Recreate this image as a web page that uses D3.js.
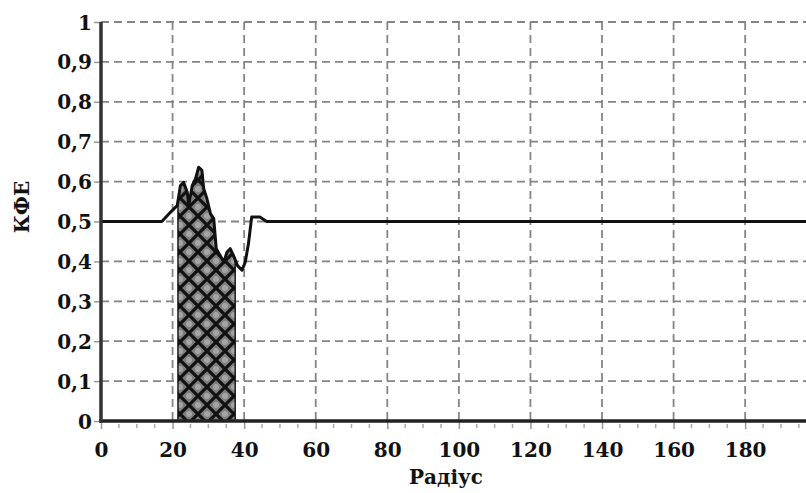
<!DOCTYPE html>
<html><head><meta charset="utf-8">
<script src="https://cdn.jsdelivr.net/npm/d3@7"></script>
<style>body{margin:0;background:#fff}svg{display:block}</style>
</head><body>
<svg id="c" width="806" height="493"></svg>
<script>
const radius = [0,17,19.4,21.3,22.2,23.1,24.1,24.5,25.5,26.4,27.3,28.2,28.7,29.6,30.6,31.5,32.2,33.3,34.3,35.2,36.1,37,38.1,39.4,40.3,41.2,42.1,44.4,46.3,197];
const kfe    = [0.5,0.5,0.523,0.54,0.59,0.598,0.573,0.54,0.59,0.607,0.636,0.628,0.582,0.557,0.519,0.507,0.432,0.415,0.398,0.423,0.432,0.415,0.39,0.378,0.398,0.444,0.511,0.511,0.5,0.5];
const shadeRange = [21.5, 37.5];
const xTicks = [0,20,40,60,80,100,120,140,160,180];
const yTicks = [0,0.1,0.2,0.3,0.4,0.5,0.6,0.7,0.8,0.9,1];
const xLabel = "Радіус", yLabel = "КФЕ";

const svg = d3.select("#c");
const font = "'DejaVu Serif', serif";
const x = d3.scaleLinear().domain([0,197]).range([101,806]);
const y = d3.scaleLinear().domain([0,1]).range([421,22]);
const data = radius.map((r,i)=>({r, v:kfe[i]}));

// pattern
const defs = svg.append("defs");
const pat = defs.append("pattern").attr("id","hatch").attr("patternUnits","userSpaceOnUse")
  .attr("width",18).attr("height",18);
pat.append("rect").attr("width",18).attr("height",18).attr("fill","#7e7e7e");
pat.append("path").attr("d","M-2,-2L20,20M20,-2L-2,20")
  .attr("stroke","#111").attr("stroke-width",3.2).attr("fill","none");
[[9,0],[9,18],[0,9],[18,9]].forEach(([cx,cy])=>
  pat.append("circle").attr("cx",cx).attr("cy",cy).attr("r",3).attr("fill","#a4a4a4"));

// grid
const g = svg.append("g");
g.selectAll(".hg").data(yTicks.filter(d=>d>0)).join("line")
  .attr("x1",101).attr("x2",806).attr("y1",d=>y(d)).attr("y2",d=>y(d))
  .attr("stroke","#858585").attr("stroke-width",1.8).attr("stroke-dasharray","8,5");
g.selectAll(".vg").data(xTicks.filter(d=>d>0)).join("line")
  .attr("x1",d=>x(d)).attr("x2",d=>x(d)).attr("y1",22).attr("y2",421)
  .attr("stroke","#858585").attr("stroke-width",1.8).attr("stroke-dasharray","8,5");

// shaded area
function interp(r){ const b = d3.bisectLeft(radius, r); const a=data[b-1], c=data[b]; const t=(r-a.r)/(c.r-a.r); return {r, v:a.v+(c.v-a.v)*t}; }
const areaData = [interp(shadeRange[0]), ...data.filter(d=>d.r>shadeRange[0] && d.r<shadeRange[1]), interp(shadeRange[1])];
svg.append("path").datum(areaData)
  .attr("d", d3.area().x(d=>x(d.r)).y0(y(0)).y1(d=>y(d.v)))
  .attr("fill","url(#hatch)").attr("stroke","#111").attr("stroke-width",1.4);

// line
svg.append("path").datum(data)
  .attr("d", d3.line().x(d=>x(d.r)).y(d=>y(d.v)))
  .attr("fill","none").attr("stroke","#111").attr("stroke-width",3).attr("stroke-linejoin","round");

// x axis
const xAxis = svg.append("g").attr("transform","translate(0,421)")
  .call(d3.axisBottom(x).tickValues(xTicks).tickSize(8).tickFormat(d3.format("d")));
xAxis.select(".domain").remove();
xAxis.selectAll(".tick line").attr("stroke","#999").attr("stroke-width",1.5);
xAxis.selectAll("text").attr("font-family",font).attr("font-size",20).attr("font-weight","bold")
  .attr("fill","#111").attr("dy","0").attr("y",36);
const minor = d3.range(5,197,5).filter(d=>d%20!==0);
svg.append("g").selectAll("line").data(minor).join("line")
  .attr("x1",d=>x(d)).attr("x2",d=>x(d)).attr("y1",424).attr("y2",428)
  .attr("stroke","#aaa").attr("stroke-width",1.5);
svg.append("line").attr("x1",99).attr("x2",806).attr("y1",421).attr("y2",421)
  .attr("stroke","#222").attr("stroke-width",3.5);

// y axis
const yAxis = svg.append("g").attr("transform","translate(101,0)")
  .call(d3.axisLeft(y).tickValues(yTicks).tickSize(7).tickFormat(d=>d===0?"0":d===1?"1":d3.format(".1f")(d).replace(".",",")));
yAxis.select(".domain").remove();
yAxis.selectAll(".tick line").attr("stroke","#999").attr("stroke-width",1.5);
yAxis.selectAll("text").attr("font-family",font).attr("font-size",20).attr("font-weight","bold")
  .attr("fill","#111").attr("x",-9).attr("dy","0.35em");
svg.append("line").attr("x1",101).attr("x2",101).attr("y1",22).attr("y2",423)
  .attr("stroke","#333").attr("stroke-width",3.5);

// labels
svg.append("text").attr("x",446).attr("y",484).attr("text-anchor","middle")
  .attr("font-family",font).attr("font-size",20).attr("font-weight","bold").attr("fill","#111").text(xLabel);
svg.append("text").attr("transform","translate(29,207) rotate(-90)").attr("text-anchor","middle")
  .attr("font-family",font).attr("font-size",20).attr("font-weight","bold").attr("fill","#111").text(yLabel);
</script>
</body></html>
